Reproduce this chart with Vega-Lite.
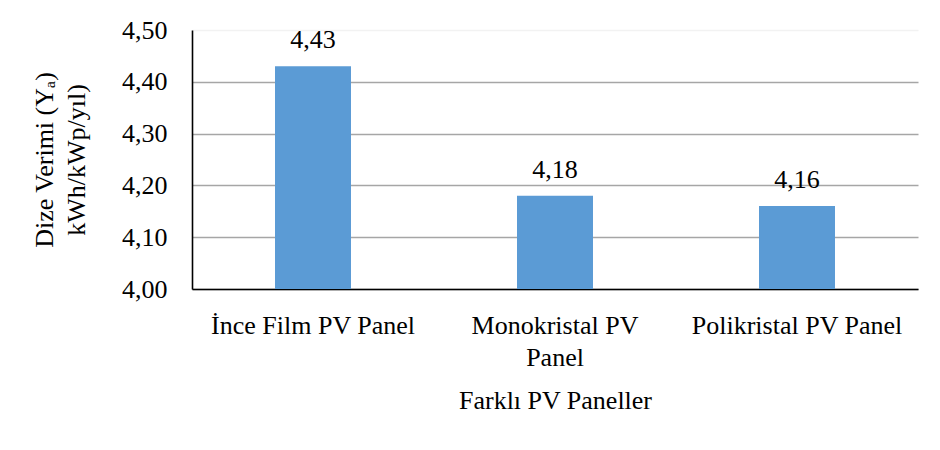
{
  "$schema": "https://vega.github.io/schema/vega-lite/v6.json",
  "width": 726,
  "height": 259,
  "autosize": "none",
  "padding": {"left": 192, "top": 30, "right": 22, "bottom": 161},
  "background": "white",
  "config": {
    "locale": {"number": {"decimal": ",", "thousands": ".", "grouping": [3], "currency": ["", " ₺"]}},
    "view": {"stroke": null},
    "font": "Liberation Serif",
    "axis": {
      "labelFont": "Liberation Serif",
      "titleFont": "Liberation Serif",
      "labelFontSize": 26,
      "titleFontSize": 26,
      "labelColor": "#000000",
      "titleColor": "#000000",
      "titleFontWeight": "normal",
      "ticks": false,
      "domainColor": "#000000",
      "domainWidth": 1.6
    }
  },
  "data": {
    "values": [
      {"panel": "İnce Film PV Panel", "verim": 4.43},
      {"panel": "Monokristal PV Panel", "verim": 4.18},
      {"panel": "Polikristal PV Panel", "verim": 4.16}
    ]
  },
  "encoding": {
    "x": {
      "field": "panel",
      "type": "nominal",
      "sort": null,
      "scale": {"paddingInner": 0.686, "paddingOuter": 0.343},
      "axis": {
        "title": "Farklı PV Paneller",
        "titleBaseline": "alphabetic",
        "titleY": 119,
        "labelAngle": 0,
        "labelBaseline": "alphabetic",
        "labelPadding": 44,
        "labelLineHeight": 32,
        "labelLimit": 0,
        "labelExpr": "datum.value == 'Monokristal PV Panel' ? ['Monokristal PV', 'Panel'] : datum.label",
        "grid": false
      }
    }
  },
  "layer": [
    {
      "mark": {"type": "bar", "color": "#5B9BD5"},
      "encoding": {
        "y": {
          "field": "verim",
          "type": "quantitative",
          "scale": {"domain": [4, 4.5], "zero": false, "nice": false},
          "axis": {
            "title": ["Dize Verimi (Yₐ)", "kWh/kWp/yıl)"],
            "titleAngle": -90,
            "titleBaseline": "alphabetic",
            "titleLineHeight": 32,
            "titleX": -140,
            "values": [4, 4.1, 4.2, 4.3, 4.4, 4.5],
            "format": ".2f",
            "labelPadding": 25,
            "grid": true,
            "gridColor": {"condition": {"test": "datum.value >= 4.5", "value": "#F2F2F2"}, "value": "#A6A6A6"},
            "gridWidth": 1.3
          }
        },
        "y2": {"datum": 4}
      }
    },
    {
      "mark": {"type": "text", "baseline": "alphabetic", "dy": -18, "fontSize": 26, "font": "Liberation Serif", "color": "#000000"},
      "encoding": {
        "y": {"field": "verim", "type": "quantitative"},
        "text": {"field": "verim", "type": "quantitative", "format": ".2f"}
      }
    }
  ]
}
